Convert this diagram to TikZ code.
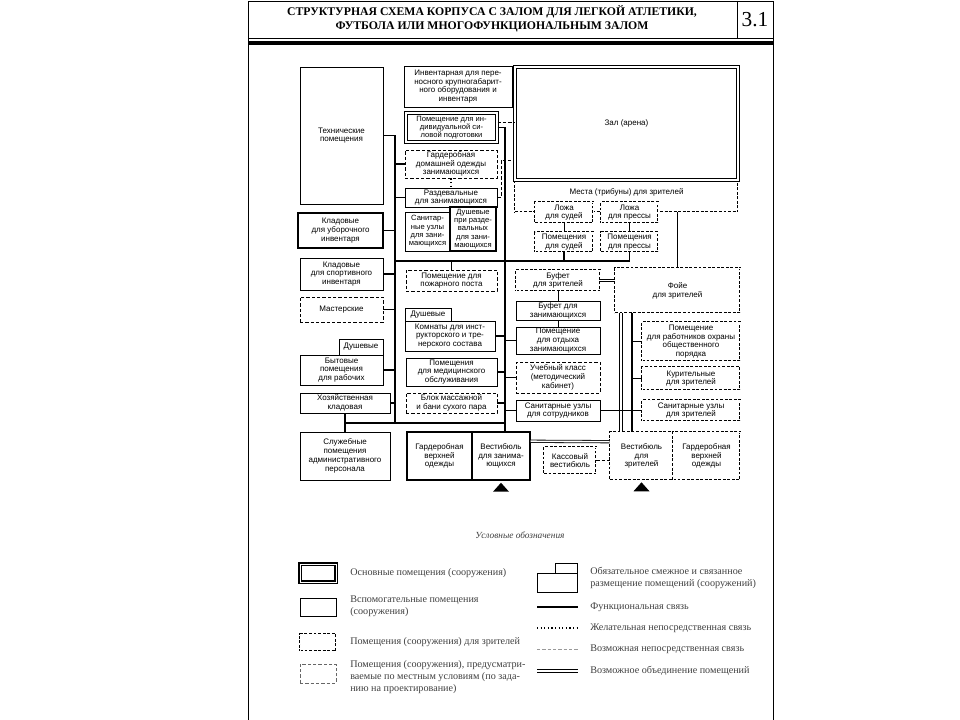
\documentclass[tikz,border=0pt]{standalone}
\usepackage{fontspec}
\setmainfont{Liberation Sans}
\newfontfamily\titlefont{Liberation Serif}
\usetikzlibrary{calc}

\tikzset{
  wh/.style 2 args={minimum width=#1*0.75pt, minimum height=#2*0.75pt},
  room/.style={draw, line width=0.6pt, fill=white, inner sep=0pt, align=center,
    font=\fontsize{6}{6.6}\selectfont},
  boldroom/.style={room, line width=1.1pt},
  mainroom/.style={room, double, line width=0.8pt, double distance=0.8pt},
  specroom/.style={room, dash pattern=on 2.2pt off 1.2pt, double, line width=0.45pt, double distance=0.6pt},
  localroom/.style={room, dash pattern=on 2.5pt off 1.5pt},
  tight/.style={font=\fontsize{5.7}{6.2}\selectfont},
  func/.style={line width=1.1pt},
  link/.style={line width=0.6pt},
  wish/.style={line width=0.9pt, dash pattern=on 0.9pt off 1.8pt},
  maybe/.style={line width=0.6pt, dash pattern=on 2.5pt off 1.5pt},
  merge/.style={double, line width=0.6pt, double distance=1.2pt},
  legend/.style={anchor=west, align=left, inner xsep=0pt, text=black!75, font=\titlefont\fontsize{7.6}{9}\selectfont}
}

\begin{document}
\begin{tikzpicture}[x=0.75pt,y=-0.75pt]

\fill[white] (0,0) rectangle (960,720);
\useasboundingbox (0,0) rectangle (960,720);

% page frame and title
\draw[line width=0.6pt] (248,1) rectangle (773,38);
\draw[line width=0.6pt] (737,1) -- (737,38);
\draw[line width=2.4pt] (248,43) -- (773,43);
\draw[line width=0.6pt] (248,38) -- (248,720) (773,38) -- (773,720);
\node[font=\titlefont\bfseries\fontsize{8.8}{10.5}\selectfont, align=center] (title) at (492,19)
  {СТРУКТУРНАЯ СХЕМА КОРПУСА С ЗАЛОМ ДЛЯ ЛЕГКОЙ АТЛЕТИКИ,\\ФУТБОЛА ИЛИ МНОГОФУНКЦИОНАЛЬНЫМ ЗАЛОМ};
\node[font=\titlefont\fontsize{16}{16}\selectfont] (num) at (755,20) {3.1};

% left column
\node[room, wh={83}{137}] (tech) at (341.5,135.5) {Технические\\помещения};
\node[boldroom, wh={85}{35}] (klu) at (340.5,230.5) {Кладовые\\для уборочного\\инвентаря};
\node[room, wh={83}{32}] (kls) at (341.5,274) {Кладовые\\для спортивного\\инвентаря};
\node[localroom, wh={83}{25}] (mast) at (341.5,309.5) {Мастерские};
\node[room, wh={44}{16}] (dushb) at (361,347) {Душевые};
\node[room, wh={83}{30}] (byt) at (341.5,370) {Бытовые\\помещения\\для рабочих};
\node[room, wh={90}{20}] (hoz) at (345,403) {Хозяйственная\\кладовая};
\node[room, wh={90}{48}] (slug) at (345,456) {Служебные\\помещения\\административного\\персонала};

% centre column
\node[room, wh={108}{41}] (inv) at (458,86.5) {Инвентарная для пере-\\носного крупногабарит-\\ного оборудования и\\инвентаря};
\node[mainroom, tight, wh={91}{29}] (ind) at (451.5,127.5) {Помещение для ин-\\дивидуальной си-\\ловой подготовки};
\node[localroom, wh={92}{28}] (gdom) at (451,164) {Гардеробная\\домашней одежды\\занимающихся};
\node[room, wh={92}{19}] (razd) at (451,197.5) {Раздевальные\\для занимающихся};
\node[room, tight, wh={45}{39}] (sanz) at (427.5,231.5) {Санитар-\\ные узлы\\для зани-\\мающихся};
\node[boldroom, tight, wh={46}{44}] (dushr) at (473,229) {Душевые\\при разде-\\вальных\\для зани-\\мающихся};
\node[localroom, wh={91}{21}] (fire) at (451.5,280.5) {Помещение для\\пожарного поста};
\node[room, wh={46}{13}] (dushk) at (428,314.5) {Душевые};
\node[room, wh={90}{30}] (komn) at (450,336) {Комнаты для инст-\\рукторского и тре-\\нерского состава};
\node[room, wh={91}{28}] (med) at (451.5,372) {Помещения\\для медицинского\\обслуживания};
\node[localroom, wh={91}{20}] (mass) at (451.5,403) {Блок массажной\\и бани сухого пара};
\node[boldroom, wh={65}{48}] (gverh) at (439.5,456) {Гардеробная\\верхней\\одежды};
\node[boldroom, wh={58}{48}] (vzan) at (501,456) {Вестибюль\\для занима-\\ющихся};

% hall and spectators
\node[specroom, wh={223}{40}] (mesta) at (626.5,192) {Места (трибуны) для зрителей};
\node[mainroom, wh={223}{113}] (zal) at (626.5,123.5) {Зал (арена)};
\node[specroom, wh={58}{21}] (losud) at (564,212.5) {Ложа\\для судей};
\node[specroom, wh={57}{21}] (lopr) at (629.5,212.5) {Ложа\\для прессы};
\node[specroom, wh={58}{20}] (psud) at (564,242) {Помещения\\для судей};
\node[specroom, wh={57}{20}] (ppr) at (629.5,242) {Помещения\\для прессы};
\node[specroom, wh={84}{21}] (bufz) at (558,280.5) {Буфет\\для зрителей};
\node[room, wh={84}{19}] (bufzan) at (558,310.5) {Буфет для\\занимающихся};
\node[room, wh={84}{27}] (otd) at (558,340.5) {Помещение\\для отдыха\\занимающихся};
\node[localroom, wh={84}{31}] (uch) at (558,377.5) {Учебный класс\\(методический\\кабинет)};
\node[room, wh={84}{21}] (sans) at (558,410.5) {Санитарные узлы\\для сотрудников};
\node[specroom, wh={52}{27}] (kass) at (570,460.5) {Кассовый\\вестибюль};

% right column
\node[specroom, wh={125}{45}] (foye) at (677.5,290.5) {Фойе\\для зрителей};
\node[specroom, wh={98}{39}] (ohr) at (691,341.5) {Помещение\\для работников охраны\\общественного\\порядка};
\node[specroom, wh={98}{23}] (kur) at (691,378.5) {Курительные\\для зрителей};
\node[specroom, wh={98}{21}] (sanzr) at (691,410.5) {Санитарные узлы\\для зрителей};
\node[specroom, wh={63}{48}] (vzr) at (641.5,456) {Вестибюль\\для\\зрителей};
\node[specroom, wh={67}{48}] (gvz) at (706.5,456) {Гардеробная\\верхней\\одежды};

% links
\coordinate (ls) at (395,423);
\coordinate (hl) at (395,261);
\coordinate (cs) at ([xshift=3pt]vzan.north);
\coordinate (indd) at ([yshift=3.6pt]ind.east);
\coordinate (dj) at (501,160);
\coordinate (fd) at (621,300);
\coordinate (fs) at (632,300);

\draw[func] (tech.east) -| (ls);
\foreach \n in {klu,kls,mast,byt,hoz} \draw[func] (\n.east) -- (\n.east -| ls);
\foreach \n in {gdom,razd} \draw[func] (\n.west) -- (\n.west -| ls);
\draw[func] (hoz.south) -- (slug.north);
\draw[func] (hoz.south |- ls) -- (cs |- ls);
\draw[func] (ind.east) -| (cs);
\foreach \n in {komn,med,mass} \draw[func] (\n.east) -- (\n.east -| cs);
\foreach \n in {otd,uch,sans} \draw[func] (\n.west) -- (\n.west -| cs);
\draw[func] (hl) -- (hl -| ppr.south);
\draw[func] (psud.south) -- (psud.south |- hl);
\draw[func] (ppr.south) -- (ppr.south |- hl);
\draw[link] (fire.north) -- (fire.north |- hl);
\draw[link] (losud.south) -- (psud.north);
\draw[link] (lopr.south) -- (ppr.north);
\draw[link] (bufz.south) -- (bufzan.north);
\draw[link] (bufzan.south) -- (otd.north);
\draw[func] (foye.north) -- (foye.north |- mesta.south);
\draw[merge] (bufz.east) -- (bufz.east -| foye.west);
\draw[merge] (foye.south -| fd) -- (vzr.north -| fd);
\draw[func] (foye.south -| fs) -- (vzr.north -| fs);
\foreach \n in {ohr,kur} \draw[func] (\n.west) -- (\n.west -| fs);
\draw[link] (sans.east) -- (sanzr.west);
\draw[merge] ([yshift=-7.5pt]vzan.north east) -- ([yshift=-7.5pt]vzr.north west);
\draw[maybe] (kass.east) -- (kass.east -| vzr.west);
\draw[wish] (gdom.south) -- (razd.north);
\draw[maybe] (indd) -- (indd -| zal.west);
\draw[maybe] (razd.east) -| (dj) -- (dj -| zal.west);

% entrances
\fill ($(vzan.south)+(-8,11)$) -- ++(8,-9) -- ++(8,9) -- cycle;
\fill ($(vzr.south)+(-8,11)$) -- ++(8,-9) -- ++(8,9) -- cycle;

% legend
\node[font=\titlefont\itshape\fontsize{7}{9}\selectfont, text=black!75] (lgt) at (520,535) {Условные обозначения};
\node[mainroom, line width=1.1pt, double distance=0.6pt, wh={36}{18}] (lgmain) at (318,573) {};
\node[legend] (lgmaintx) at (350,573) {Основные помещения (сооружения)};
\node[room, wh={36}{18}] (lgaux) at (318,607) {};
\node[legend] (lgauxtx) at (350,606) {Вспомогательные помещения\\(сооружения)};
\node[specroom, wh={36}{17}] (lgspec) at (318,642.5) {};
\node[legend] (lgspectx) at (350,642) {Помещения (сооружения) для зрителей};
\node[localroom, draw=black!60, wh={36}{19}] (lgloc) at (318,673.5) {};
\node[legend] (lgloctx) at (350,677) {Помещения (сооружения), предусматри-\\ваемые по местным условиям (по зада-\\нию на проектирование)};

\node[room, wh={40}{19}] (lgadj) at (557,582.5) {};
\node[room, wh={22}{10}] (lgadjt) at (566,568) {};
\node[legend] (lgadjtx) at (590,578) {Обязательное смежное и связанное\\размещение помещений (сооружений)};
\draw[func] (537,607) -- (578,607);
\node[legend] (lgfunctx) at (590,607) {Функциональная связь};
\draw[wish] (537,628) -- (578,628);
\node[legend] (lgwishtx) at (590,628) {Желательная непосредственная связь};
\draw[maybe, black!40] (537,649) -- (578,649);
\node[legend] (lgmaybetx) at (590,649) {Возможная непосредственная связь};
\draw[merge] (537,671) -- (578,671);
\node[legend] (lgmergetx) at (590,671) {Возможное объединение помещений};
\end{tikzpicture}
\end{document}
